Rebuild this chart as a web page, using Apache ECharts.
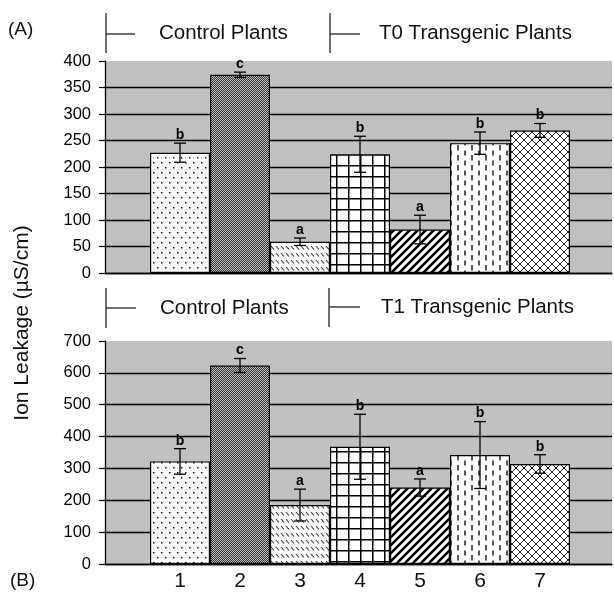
<!DOCTYPE html>
<html>
<head>
<meta charset="utf-8">
<script src="https://cdn.jsdelivr.net/npm/echarts@6/dist/echarts.min.js"></script>
<style>html,body{margin:0;padding:0;background:#fff;}#c{width:614px;height:592px;}</style>
</head>
<body>
<div id="c"></div>
<script>
// ---- data ----
const categories = ['1', '2', '3', '4', '5', '6', '7'];
const valuesA = [227, 374, 59, 224, 82, 245, 269];
const errorsA = [18, 5, 7, 34, 27, 21, 13];
const lettersA = ['b', 'c', 'a', 'b', 'a', 'b', 'b'];
const valuesB = [322, 623, 185, 368, 240, 342, 314];
const errorsB = [40, 22, 50, 102, 27, 105, 29];
const lettersB = ['b', 'c', 'a', 'b', 'a', 'b', 'b'];
const axisA = [0, 400, 50];   // min, max, interval
const axisB = [0, 700, 100];
const headersA = ['Control Plants', 'T0 Transgenic Plants'];
const headersB = ['Control Plants', 'T1 Transgenic Plants'];
const panelLabels = ['(A)', '(B)'];
const yTitle = 'Ion Leakage (\u00B5S/cm)';

const FONT = '"Liberation Sans", Arial, sans-serif';

// ---- patterns ----
function tile(w, h, draw) {
  const c = document.createElement('canvas');
  c.width = w; c.height = h;
  const g = c.getContext('2d');
  g.fillStyle = '#fff'; g.fillRect(0, 0, w, h);
  draw(g, w, h);
  return c;
}
const patterns = [
  tile(8, 10, g => { g.fillStyle = '#111'; g.fillRect(1, 2, 1.5, 1.5); g.fillRect(5, 7, 1.5, 1.5); }),
  tile(2, 2, g => { g.fillStyle = '#383838'; g.fillRect(0, 0, 2, 2); g.fillStyle = '#bdbdbd'; g.fillRect(0, 0, 1, 1); g.fillRect(1, 1, 1, 1); }),
  tile(5, 7, g => { g.strokeStyle = '#333'; g.lineWidth = 1.1; g.beginPath(); g.moveTo(1, 1); g.lineTo(4, 4.5); g.stroke(); }),
  tile(12, 11, g => { g.fillStyle = '#000'; g.fillRect(0, 0, 12, 1.5); g.fillRect(0, 0, 1.5, 11); }),
  tile(8, 8, g => { g.strokeStyle = '#000'; g.lineWidth = 2.6; g.beginPath();
    g.moveTo(-2, 10); g.lineTo(10, -2); g.moveTo(-2, 2); g.lineTo(2, -2); g.moveTo(6, 10); g.lineTo(10, 6); g.stroke(); }),
  tile(14, 10, g => { g.strokeStyle = '#222'; g.lineWidth = 1.5; g.beginPath();
    g.moveTo(3, 0.5); g.lineTo(3, 5.5); g.moveTo(10, 5); g.lineTo(10, 10); g.moveTo(10, 0); g.lineTo(10, 0.5); g.stroke(); }),
  tile(8, 8, g => { g.strokeStyle = '#222'; g.lineWidth = 1; g.beginPath();
    g.moveTo(0, 0); g.lineTo(8, 8); g.moveTo(0, 8); g.lineTo(8, 0); g.stroke(); })
];

function barData(vals) {
  return vals.map((v, i) => ({
    value: v,
    itemStyle: { color: { image: patterns[i], repeat: 'repeat' }, borderColor: '#000', borderWidth: 1.2 }
  }));
}
function errData(vals, errs, letters) {
  return vals.map((v, i) => [i, v, errs[i], letters[i]]);
}
function renderErr(params, api) {
  const i = api.value(0), v = api.value(1), e = api.value(2);
  const letter = (params.seriesIndex === 1 ? lettersA : lettersB)[params.dataIndex];
  const hi = api.coord([i, v + e]);
  const lo = api.coord([i, v - e]);
  const cw = 6;
  const st = { stroke: '#000', lineWidth: 1.3 };
  return {
    type: 'group',
    children: [
      { type: 'line', shape: { x1: hi[0], y1: hi[1], x2: lo[0], y2: lo[1] }, style: st },
      { type: 'line', shape: { x1: hi[0] - cw, y1: hi[1], x2: hi[0] + cw, y2: hi[1] }, style: st },
      { type: 'line', shape: { x1: lo[0] - cw, y1: lo[1], x2: lo[0] + cw, y2: lo[1] }, style: st },
      { type: 'text', style: { text: letter, x: hi[0], y: hi[1] - 1, align: 'center', verticalAlign: 'bottom',
        fill: '#000', font: 'bold 14px ' + FONT } }
    ]
  };
}
function splitColors(ax) {
  const n = Math.round((ax[1] - ax[0]) / ax[2]) + 1;
  const arr = [];
  for (let k = 0; k < n; k++) arr.push(k === n - 1 ? 'rgba(0,0,0,0)' : '#000');
  return arr;
}
function bgY(ax, gi) {
  return {
    type: 'value', gridIndex: gi, min: ax[0], max: ax[1], interval: ax[2],
    axisLine: { show: true, lineStyle: { color: '#000', width: 1.3 } },
    axisTick: { show: true, length: 6, lineStyle: { color: '#000', width: 1.2 } },
    axisLabel: { color: '#000', fontSize: 16.5, fontFamily: FONT, margin: 14 },
    splitLine: { show: true, lineStyle: { color: splitColors(ax), width: 1.3 } }
  };
}
function bgX(gi) {
  return {
    type: 'value', gridIndex: gi, min: 0, max: 1,
    axisLine: { show: true, onZero: false, lineStyle: { color: '#000', width: 1.3 } },
    axisTick: { show: false }, axisLabel: { show: false }, splitLine: { show: false }
  };
}

const chart = echarts.init(document.getElementById('c'), null, { renderer: 'canvas' });

function bracket(x, y1, y2, hy, hx2) {
  return [
    { type: 'line', shape: { x1: x, y1: y1, x2: x, y2: y2 }, style: { stroke: '#222', lineWidth: 1.3 } },
    { type: 'line', shape: { x1: x, y1: hy, x2: hx2, y2: hy }, style: { stroke: '#222', lineWidth: 1.3 } }
  ];
}
function label(text, x, y, size, extra) {
  return Object.assign({ type: 'text', x: x, y: y,
    style: { text: text, fill: '#111', font: size + 'px ' + FONT, align: 'left', verticalAlign: 'middle' } }, extra || {});
}

chart.setOption({
  animation: false,
  backgroundColor: '#fff',
  grid: [
    { left: 105, top: 61, width: 507, height: 212, show: true, backgroundColor: '#c0c0c0', borderWidth: 0 },
    { left: 150, top: 61, width: 420, height: 212 },
    { left: 105, top: 341, width: 507, height: 223, show: true, backgroundColor: '#c0c0c0', borderWidth: 0 },
    { left: 150, top: 341, width: 420, height: 223 }
  ],
  xAxis: [
    bgX(0),
    { type: 'category', gridIndex: 1, data: categories, axisLine: { show: false }, axisTick: { show: false }, axisLabel: { show: false } },
    bgX(2),
    { type: 'category', gridIndex: 3, data: categories, axisLine: { show: false }, axisTick: { show: false },
      axisLabel: { color: '#111', fontSize: 21, fontFamily: FONT, margin: 7 } }
  ],
  yAxis: [
    bgY(axisA, 0),
    { type: 'value', gridIndex: 1, min: axisA[0], max: axisA[1], show: false },
    bgY(axisB, 2),
    { type: 'value', gridIndex: 3, min: axisB[0], max: axisB[1], show: false }
  ],
  series: [
    { type: 'bar', xAxisIndex: 1, yAxisIndex: 1, barCategoryGap: '0%', data: barData(valuesA), z: 3 },
    { type: 'custom', xAxisIndex: 1, yAxisIndex: 1, renderItem: renderErr, data: errData(valuesA, errorsA, lettersA), z: 5 },
    { type: 'bar', xAxisIndex: 3, yAxisIndex: 3, barCategoryGap: '0%', data: barData(valuesB), z: 3 },
    { type: 'custom', xAxisIndex: 3, yAxisIndex: 3, renderItem: renderErr, data: errData(valuesB, errorsB, lettersB), z: 5 }
  ],
  graphic: [
    ...bracket(106, 13, 53, 34, 135),
    ...bracket(330, 13, 53, 34, 360),
    ...bracket(106, 288, 328, 308, 136),
    ...bracket(329, 288, 327, 307, 360),
    label(headersA[0], 159, 33, 20.5),
    label(headersA[1], 379, 33, 20.5),
    label(headersB[0], 160, 308, 20.5),
    label(headersB[1], 381, 307, 20.5),
    label(panelLabels[0], 8, 30, 19),
    label(panelLabels[1], 10, 581, 19),
    { type: 'text', x: 22, y: 323, rotation: Math.PI / 2,
      style: { text: yTitle, fill: '#111', font: '21px ' + FONT, align: 'center', verticalAlign: 'middle' } }
  ]
});
</script>
</body>
</html>
